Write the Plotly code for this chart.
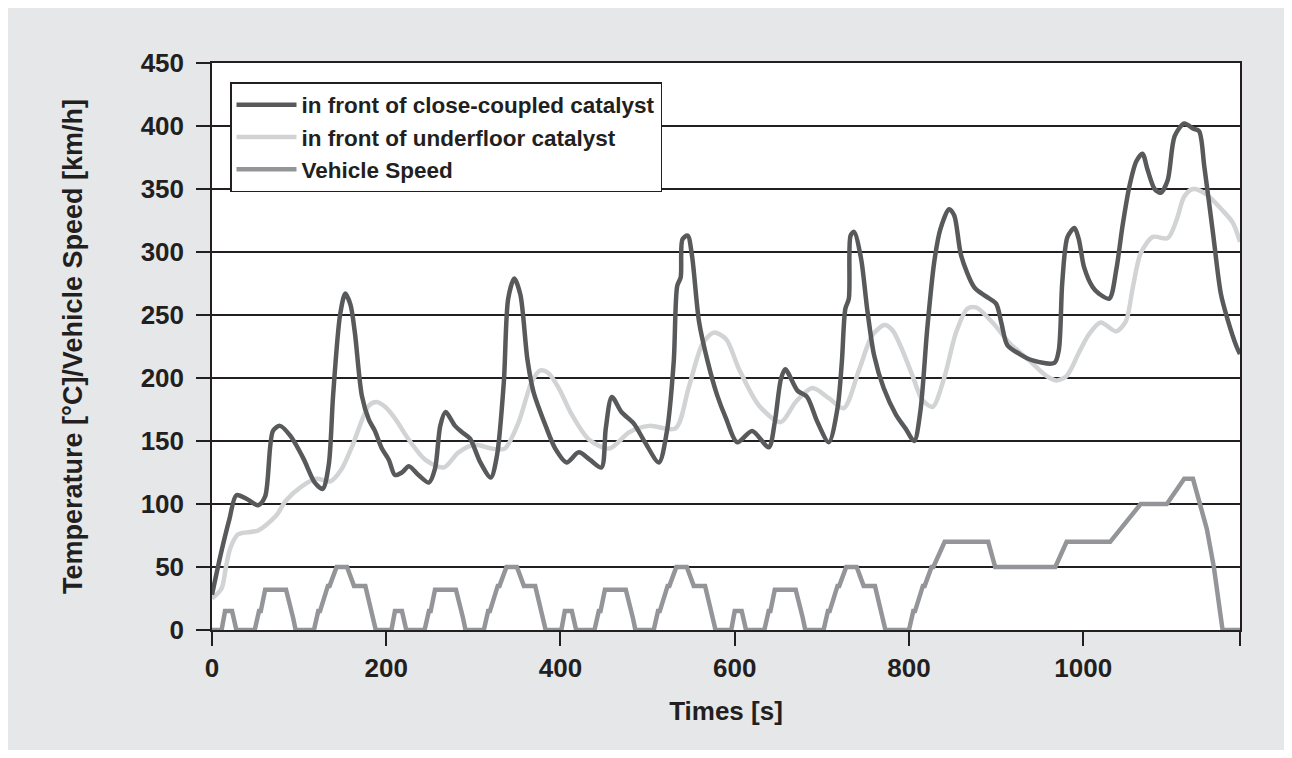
import plotly.graph_objects as go

# ---------------- data ----------------
cc_t = [0, 10, 20, 28, 40, 53, 61, 70, 78, 90, 105, 118, 127, 134, 139, 147, 153, 159, 164, 172,
        180, 187, 195, 203, 210, 218, 226, 237, 249, 256, 262, 268, 279, 287, 296, 308, 320, 327,
        335, 340, 347, 354, 362, 369, 383, 394, 407, 421, 434, 447, 452, 459, 470, 484, 497, 513,
        522, 530, 534, 538, 540, 546, 551, 559, 569, 580, 590, 603, 620, 639, 646, 653, 658, 672,
        683, 695, 708, 718, 723, 727, 731, 733, 737, 745, 752, 760, 771, 785, 796, 806, 813, 821,
        829, 836, 846, 852, 860, 875, 888, 900, 906, 913, 927, 942, 967, 972, 976, 982, 990, 995,
        1001, 1011, 1018, 1030, 1038, 1045, 1053, 1061, 1068, 1074, 1082, 1089, 1097, 1105, 1116,
        1126, 1133, 1139, 1149, 1158, 1166, 1176, 1180]
cc_v = [28, 60, 88, 107, 104, 99, 106, 158, 162, 154, 136, 117, 112, 131, 186, 250, 267, 258, 236, 186,
        167, 158, 144, 135, 123, 125, 130, 123, 117, 128, 162, 173, 162, 157, 152, 133, 121, 138,
        197, 263, 279, 266, 215, 189, 162, 144, 133, 141, 135, 129, 160, 185, 173, 164, 149, 133,
        157, 213, 273, 280, 310, 313, 297, 245, 213, 186, 168, 149, 158, 145, 165, 199, 207, 190,
        185, 165, 149, 176, 213, 255, 263, 313, 316, 295, 255, 218, 192, 171, 160, 150, 173, 239,
        292, 318, 334, 329, 297, 272, 265, 259, 244, 226, 219, 214, 212, 222, 276, 312, 319, 310,
        288, 272, 267, 263, 286, 320, 352, 372, 378, 365, 350, 347, 357, 392, 402,
        398, 396, 368, 315, 267, 246, 225, 219]

uf_t = [0, 11, 16, 21, 30, 53, 74, 84, 103, 120, 136, 149, 161, 180, 189, 199, 210, 226, 245, 266,
        283, 302, 321, 336, 352, 367, 377, 386, 398, 413, 433, 456, 479, 502, 532, 547, 563, 576,
        590, 605, 628, 653, 670, 689, 708, 725, 743, 758, 772, 781, 790, 804, 815, 827, 840, 854,
        867, 877, 896, 915, 938, 957, 969, 980, 986, 995, 1007, 1020, 1038, 1049, 1057, 1066, 1080,
        1097, 1107, 1116, 1126, 1141, 1160, 1172, 1180]
uf_v = [25, 33, 50, 65, 76, 79, 91, 102, 114, 120, 118, 128, 146, 178, 181, 177, 168, 151, 135, 129,
        141, 147, 144, 144, 165, 197, 206, 204, 192, 171, 151, 144, 157, 162, 160, 192, 227, 236,
        231, 207, 178, 165, 181, 192, 184, 176, 207, 234, 242, 238, 226, 202, 183, 177, 199, 236,
        255, 256, 244, 228, 214, 202, 198, 201, 207, 220, 235, 244, 237, 245, 272, 299, 312,
        311, 325, 344, 350, 346, 333, 323, 308]

speed_t = [0, 11, 15, 23, 28, 49, 54, 56, 61, 85, 93, 96, 117, 122, 124, 133, 135, 143, 155, 163, 176, 185, 188,
           195, 206, 210, 218, 223, 244, 249, 251, 256, 280, 288, 291, 312, 317, 319, 328, 330, 338, 350, 358, 371, 380, 383,
           390, 401, 405, 413, 418, 439, 444, 446, 451, 475, 483, 486, 507, 512, 514, 523, 525, 533, 545, 553, 566, 575, 578,
           585, 596, 600, 608, 613, 634, 639, 641, 646, 670, 678, 681, 702, 707, 709, 718, 720, 728, 740, 748, 761, 770, 773,
           780, 800, 805, 807, 816, 818, 826, 828, 841, 891, 899, 968, 981, 1031, 1066, 1096, 1116, 1126, 1142, 1150, 1160, 1180]
speed_v = [0, 0, 15, 15, 0, 0, 15, 15, 32, 32, 10, 0, 0, 15, 15, 35, 35, 50, 50, 35, 35, 10, 0,
           0, 0, 15, 15, 0, 0, 15, 15, 32, 32, 10, 0, 0, 15, 15, 35, 35, 50, 50, 35, 35, 10, 0,
           0, 0, 15, 15, 0, 0, 15, 15, 32, 32, 10, 0, 0, 15, 15, 35, 35, 50, 50, 35, 35, 10, 0,
           0, 0, 15, 15, 0, 0, 15, 15, 32, 32, 10, 0, 0, 15, 15, 35, 35, 50, 50, 35, 35, 10, 0,
           0, 0, 15, 15, 35, 35, 50, 50, 70, 70, 50, 50, 70, 70, 100, 100, 120, 120, 80, 50, 0, 0]

x_ticks = [0, 200, 400, 600, 800, 1000, 1180]
x_ticktext = ["0", "200", "400", "600", "800", "1000", ""]
y_ticks = [0, 50, 100, 150, 200, 250, 300, 350, 400, 450]

names = ["in front of close-coupled catalyst", "in front of underfloor catalyst", "Vehicle Speed"]
colors = ["#58595b", "#d1d3d4", "#939598"]

# ---------------- figure ----------------
W, H = 1292, 758
ml, mr, mt, mb = 212, 52, 63, 128
pw, ph = W - ml - mr, H - mt - mb

TXT = "#231f20"
FONT = "Liberation Sans, Arial, sans-serif"

fig = go.Figure()
fig.add_trace(go.Scatter(x=uf_t, y=uf_v, mode="lines", name=names[1], legendrank=2,
                         line=dict(color=colors[1], width=4.5, shape="spline", smoothing=0.8)))
fig.add_trace(go.Scatter(x=cc_t, y=cc_v, mode="lines", name=names[0], legendrank=1,
                         line=dict(color=colors[0], width=4.5, shape="spline", smoothing=0.8)))
fig.add_trace(go.Scatter(x=speed_t, y=speed_v, mode="lines", name=names[2], legendrank=3,
                         line=dict(color=colors[2], width=4.5)))


def px2paperx(p):
    return (p - ml) / pw


def px2papery(p):
    return (H - mb - p) / ph


shapes = [
    dict(type="rect", xref="paper", yref="paper", layer="below",
         x0=px2paperx(8), x1=px2paperx(W - 8), y0=px2papery(H - 8), y1=px2papery(8),
         fillcolor="#e6e7e8", line=dict(width=0)),
    dict(type="rect", xref="paper", yref="paper", layer="below",
         x0=0, x1=1, y0=0, y1=1, fillcolor="white", line=dict(width=0)),
]

fig.update_layout(
    width=W, height=H,
    margin=dict(l=ml, r=mr, t=mt, b=mb),
    paper_bgcolor="white", plot_bgcolor="white",
    shapes=shapes,
    font=dict(family=FONT, color=TXT, size=22),
    showlegend=True,
    legend=dict(x=px2paperx(230), y=px2papery(82), xanchor="left", yanchor="top",
                bgcolor="white", bordercolor="#231f20", borderwidth=1.5,
                font=dict(family=FONT, size=22.5, color=TXT, weight="bold"),
                itemwidth=60, tracegroupgap=0),
    xaxis=dict(range=[0, 1180], tickvals=x_ticks, ticktext=x_ticktext,
               showgrid=False, zeroline=False, showline=True, linecolor="#231f20", linewidth=1.5,
               mirror=True, ticks="outside", ticklen=14, tickwidth=1.5, tickcolor="#231f20",
               tickfont=dict(family=FONT, size=26, color=TXT, weight="bold"),
               title=dict(text="Times [s]", standoff=20,
                          font=dict(family=FONT, size=26, color=TXT, weight="bold"))),
    yaxis=dict(range=[0, 450], tickvals=y_ticks,
               showgrid=True, gridcolor="#231f20", gridwidth=1.5,
               zeroline=False, showline=True, linecolor="#231f20", linewidth=1.5,
               mirror=True, ticks="outside", ticklen=14, tickwidth=1.5, tickcolor="#231f20",
               ticklabelstandoff=7,
               tickfont=dict(family=FONT, size=26, color=TXT, weight="bold"),
               title=dict(text="Temperature [°C]/Vehicle Speed [km/h]", standoff=50,
                          font=dict(family=FONT, size=27, color=TXT, weight="bold"))),
)

fig.write_html("out.html")
